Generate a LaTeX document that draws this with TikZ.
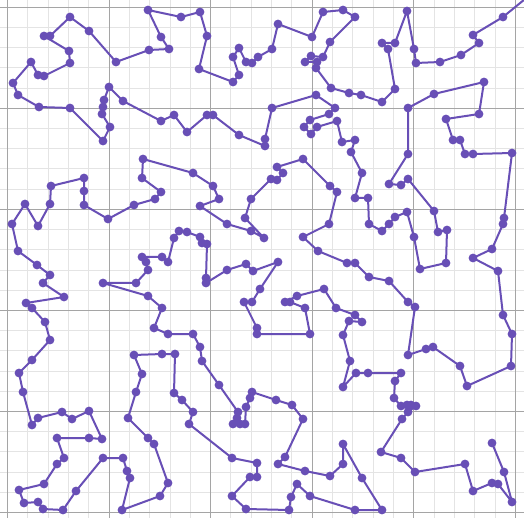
\documentclass[tikz,border=0pt]{standalone}
\definecolor{tourc}{RGB}{104,79,182}
\definecolor{minorc}{RGB}{228,228,228}
\definecolor{majorc}{RGB}{165,165,165}
\begin{document}
\begin{tikzpicture}[x=1pt,y=-1pt,
  tour/.style={draw=tourc,line width=2pt,line join=round},
  dot/.style={fill=tourc},
  minorline/.style={draw=minorc,line width=0.7pt},
  majorline/.style={draw=majorc,line width=0.8pt}]
\useasboundingbox (0,0) rectangle (524,518);
\clip (0,0) rectangle (524,518);
\fill[white] (0,0) rectangle (524,518);
\foreach \k in {0,...,25} {
  \draw[minorline] ({7.3+20.32*\k},0) -- ++(0,518);
  \draw[minorline] (0,{7+20.22*\k}) -- ++(524,0);
}
\foreach \k in {0,...,5} {
  \draw[majorline] ({7.3+101.6*\k},0) -- ++(0,518);
  \draw[majorline] (0,{7+101.1*\k}) -- ++(524,0);
}
\foreach \px/\py [count=\n] in {
492/443,504/472,512/502,498/484,492/483,473/491,465/464,415/472,401/458,381/452,
402/419,408/412,416/406,411/405,407/405,401/406,394/398,395/381,401/373,368/373,
356/373,343/387,350/361,343/335,349/321,362/322,355/315,336/308,324/289,297/296,
285/302,290/302,305/308,310/334,257/334,257/328,244/302,252/302,260/289,278/262,
253/271,246/264,227/270,206/283,206/278,207/244,202/243,200/237,187/232,179/231,
174/238,168/262,162/257,142/257,146/262,148/270,136/283,103/283,148/296,162/308,
154/328,168/334,193/334,200/347,202/361,219/385,238/412,237/418,233/424,240/424,
245/424,246/407,250/398,252/392,276/400,292/405,303/419,285/457,278/464,305/471,
330/476,343/464,343/444,362/478,382/510,355/510,310/496,297/484,291/497,289/510,
246/509,232/496,250/477,257/477,257/463,232/458,189/424,193/412,182/400,174/393,
175/354,162/354,134/355,142/374,136/392,128/418,148/438,154/444,168/483,160/496,
122/510,130/478,127/471,123/458,103/458,76/491,63/510,43/509,38/502,24/503,
19/490,44/484,57/464,64/458,57/438,89/438,102/439,89/411,72/419,62/412,
38/418,32/425,23/392,19/373,32/360,50/340,45/322,32/308,26/303,64/297,
43/283,50/275,37/265,18/251,12/224,25/204,38/226,50/204,51/186,84/178,
84/191,84/205,108/219,134/205,155/199,161/192,142/178,143/159,193/173,213/186,
219/199,200/206,227/224,251/231,264/238,245/218,251/199,271/179,277/180,283/173,
277/167,303/159,330/186,337/192,329/224,303/237,318/251,347/263,355/263,369/277,
389/281,408/302,415/307,408/355,426/349,433/347,460/366,467/386,511/366,512/334,
503/315,498/271,473/258,492/249,503/224,504/218,512/153,473/154,465/154,460/140,
453/140,446/119,479/114,484/82,434/94,408/108,408/154,389/184,401/185,408/179,
434/211,438/232,447/230,446/263,420/269,414/237,407/212,395/217,389/224,382/231,
369/224,368/198,355/198,362/173,351/152,355/140,342/142,337/121,317/127,311/134,
304/127,310/120,329/114,335/108,316/95,272/108,265/139,265/146,239/135,213/115,
207/115,187/132,174/115,161/121,123/101,109/87,104/100,103/107,102/114,110/127,
103/141,70/108,39/107,18/95,13/83,31/62,38/75,44/76,70/63,69/51,
44/36,50/36,70/17,89/31,116/62,149/50,169/49,161/37,148/10,181/17,
200/12,207/36,199/69,233/82,239/75,233/57,239/48,246/62,252/63,258/57,
272/49,278/24,312/37,323/12,343/10,355/17,330/42,323/57,311/56,305/62,
317/62,316/68,331/88,349/93,361/95,382/102,395/89,388/49,382/43,395/43,
407/11,414/49,416/63,440/62,461/55,479/43,473/35,503/17} {
  \coordinate (p\n) at (\px,\py);
  \xdef\npts{\n}
}
\coordinate (pout) at (530,-5);
\draw[tour] (p1) \foreach \i in {2,...,\npts} { -- (p\i) } -- (pout);
\foreach \i in {1,...,\npts} { \fill[dot] (p\i) circle (4.4pt); }
\end{tikzpicture}
\end{document}
